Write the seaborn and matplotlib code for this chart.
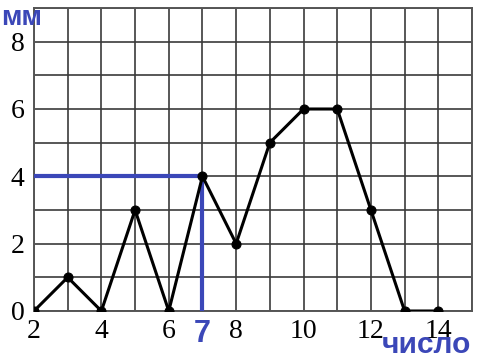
import matplotlib
matplotlib.use("Agg")
import matplotlib.pyplot as plt
import seaborn as sns
import pandas as pd

x_vals = [2, 3, 4, 5, 6, 7, 8, 9, 10, 11, 12, 13, 14]
y_vals = [0, 1, 0, 3, 0, 4, 2, 5, 6, 6, 3, 0, 0]
x_ticks = [2, 4, 6, 7, 8, 10, 12, 14]
x_tick_labels = ["2", "4", "6", "7", "8", "10", "12", "14"]
y_ticks = [0, 2, 4, 6, 8]
y_tick_labels = ["0", "2", "4", "6", "8"]
mark_x, mark_y = 7, 4
y_unit = "мм"
x_unit = "число"

sns.set_theme(style="white")
plt.rcParams['font.family'] = ['Liberation Serif', 'DejaVu Serif']

BLUE = "#3b47b8"

fig = plt.figure(figsize=(4.84, 3.6), dpi=100)
ax = fig.add_axes([34/484, 49/360, 438/484, 303/360])

df = pd.DataFrame({"x": x_vals, "y": y_vals})

ax.set_xlim(2, 15)
ax.set_ylim(0, 9)
ax.set_xticks(range(2, 16), minor=True)
ax.set_yticks(range(0, 10), minor=True)
ax.set_xticks(x_ticks)
ax.set_xticklabels(x_tick_labels)
ax.set_yticks(y_ticks)
ax.set_yticklabels(y_tick_labels)
ax.grid(True, which="both", color="#3a3a3a", linewidth=1.4, alpha=0.85)
ax.set_axisbelow(True)
for s in ax.spines.values():
    s.set_color("#555555")
    s.set_linewidth(1.4)

ax.plot([2, mark_x], [mark_y, mark_y], color=BLUE, linewidth=3, zorder=3, solid_capstyle="butt")
ax.plot([mark_x, mark_x], [0, mark_y], color=BLUE, linewidth=3, zorder=3, solid_capstyle="butt")

sns.lineplot(data=df, x="x", y="y", ax=ax, color="black", linewidth=2.2,
             marker="o", markersize=6.5, markeredgecolor="black", zorder=4)

ax.set_xlabel("")
ax.set_ylabel("")
ax.tick_params(which="both", length=0)
ax.tick_params(axis="x", labelsize=20, pad=6, colors="black")
ax.tick_params(axis="y", labelsize=20, pad=7, colors="black")

for lab in ax.get_xticklabels():
    if lab.get_text() == "7":
        lab.set_color(BLUE)
        lab.set_fontweight("bold")
        lab.set_fontfamily("Liberation Sans")
        lab.set_fontsize(22)

fig.text(1/484, 1 - 18/360, y_unit, ha="left", va="center", fontsize=20, fontweight="bold",
         color=BLUE, family="Liberation Sans")
fig.text(382/484, 1 - 345/360, x_unit, ha="left", va="center", fontsize=21.5, fontweight="bold",
         color=BLUE, family="Liberation Sans")

fig.savefig("out.png", dpi=100)
